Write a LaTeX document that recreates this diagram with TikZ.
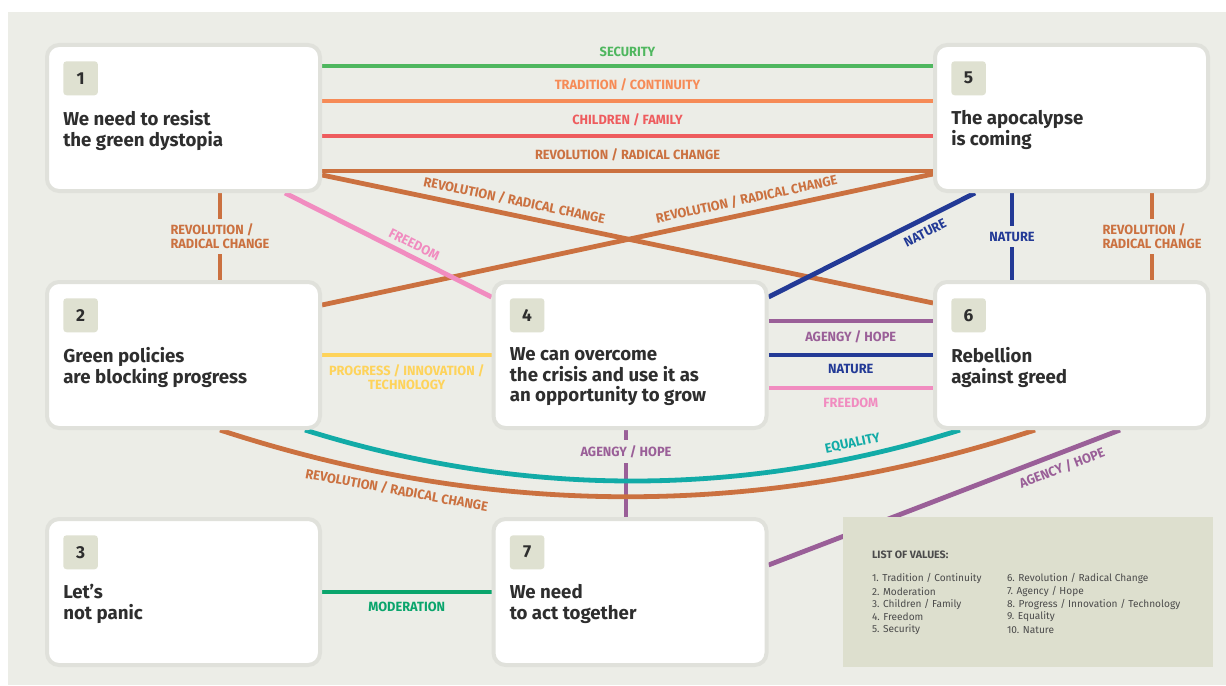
\documentclass[tikz,border=0pt]{standalone}
\usepackage{fontspec}
\setmainfont{Fira Sans}
\usetikzlibrary{positioning}

\definecolor{panel}{HTML}{ECEDE7}
\definecolor{boxedge}{HTML}{E0E1DB}
\definecolor{badgefill}{HTML}{DFE1D1}
\definecolor{legendbg}{HTML}{DDDFCE}
\definecolor{ink}{HTML}{2E2E2E}
\definecolor{legendink}{HTML}{4B4B4B}
\definecolor{security}{HTML}{4FB75F}
\definecolor{tradition}{HTML}{F68B57}
\definecolor{children}{HTML}{EE5C5E}
\definecolor{revolution}{HTML}{CB7140}
\definecolor{freedom}{HTML}{F18CC0}
\definecolor{nature}{HTML}{233A96}
\definecolor{agency}{HTML}{9A5F98}
\definecolor{progress}{HTML}{FED35A}
\definecolor{equality}{HTML}{12ABA7}
\definecolor{moderation}{HTML}{0AA56C}

\pgfdeclarelayer{lines}
\pgfsetlayers{lines,main}

\tikzset{
  box/.style={draw=boxedge, line width=3pt, fill=white, rounded corners=9pt,
    minimum width=204.75pt, minimum height=109.5pt, inner sep=0pt},
  badge/.style={fill=badgefill, rounded corners=2.5pt, minimum width=26pt,
    minimum height=25.5pt, inner sep=0pt, anchor=north west, text=ink,
    font=\fontsize{13}{13}\selectfont\bfseries},
  claim/.style={anchor=north west, inner sep=0pt, align=left, text=ink,
    font=\fontsize{14}{15.6}\selectfont\bfseries},
  conn/.style={line width=3.6pt},
  tag/.style={font=\fontsize{10}{10.5}\selectfont\bfseries, xscale=0.96, inner sep=1.5pt},
  gap/.style={fill=panel, inner ysep=4pt, align=left},
  legendbox/.style={fill=legendbg, minimum width=277.5pt, minimum height=112.5pt, inner sep=0pt},
  legenditem/.style={anchor=west, inner sep=0pt, text=legendink, font=\fontsize{7.6}{8}\selectfont},
}

\begin{document}
\begin{tikzpicture}[x=0.75pt, y=-0.75pt]
        \useasboundingbox (0,0) rectangle (1226,685);

        \node[box] (b1) at (183.5,118) {};
        \node[badge] at ([shift={(18,18)}]b1.north west) {1};
        \node[claim] at ([shift={(18,67)}]b1.north west) {We need to resist\\the green dystopia};

        \node[box] (b5) at (1071.5,118) {};
        \node[badge] at ([shift={(18,18)}]b5.north west) {5};
        \node[claim] at ([shift={(18,67)}]b5.north west) {The apocalypse\\is coming};

        \node[box] (b2) at (183.5,355) {};
        \node[badge] at ([shift={(18,18)}]b2.north west) {2};
        \node[claim] at ([shift={(18,67)}]b2.north west) {Green policies\\are blocking progress};

        \node[box] (b4) at (630,355) {};
        \node[badge] at ([shift={(18,18)}]b4.north west) {4};
        \node[claim] at ([shift={(18,67)}]b4.north west) {We can overcome\\the crisis and use it as\\an opportunity to grow};

        \node[box] (b6) at (1071.5,355) {};
        \node[badge] at ([shift={(18,18)}]b6.north west) {6};
        \node[claim] at ([shift={(18,67)}]b6.north west) {Rebellion\\against greed};

        \node[box] (b3) at (183.5,592) {};
        \node[badge] at ([shift={(18,18)}]b3.north west) {3};
        \node[claim] at ([shift={(18,67)}]b3.north west) {Let’s\\not panic};

        \node[box] (b7) at (630,592) {};
        \node[badge] at ([shift={(18,18)}]b7.north west) {7};
        \node[claim] at ([shift={(18,67)}]b7.north west) {We need\\to act together};

        \node[legendbox] (lv) at (1028,592) {};
        \node[legenditem, font=\fontsize{8}{8}\selectfont\bfseries] at ([shift={(29,38)}]lv.north west) {LIST OF VALUES:};
        \foreach \val [count=\i from 0] in {1. Tradition / Continuity, 2. Moderation, 3. Children / Family, 4. Freedom, 5. Security}
            \node[legenditem] at ([shift={(29,62+12.75*\i)}]lv.north west) {\val};
        \foreach \val [count=\i from 0] in {6. Revolution / Radical Change, 7. Agency / Hope, 8. Progress / Innovation / Technology, 9. Equality, 10. Nature}
            \node[legenditem] at ([shift={(164,62+12.75*\i)}]lv.north west) {\val};

        \begin{pgfonlayer}{lines}
        \fill[white] (0,0) rectangle (1226,685);
        \fill[panel] (8,12) rectangle (1226,685);

        \draw[conn, security] ([shift={(0,-52)}]b1.east) -- node[tag, above=4pt] {SECURITY} ([shift={(0,-52)}]b5.west);
        \draw[conn, tradition] ([shift={(0,-17)}]b1.east) -- node[tag, above=4pt] {TRADITION / CONTINUITY} ([shift={(0,-17)}]b5.west);
        \draw[conn, children] ([shift={(0,18)}]b1.east) -- node[tag, above=4pt] {CHILDREN / FAMILY} ([shift={(0,18)}]b5.west);
        \draw[conn, revolution] ([shift={(0,53)}]b1.east) -- node[tag, above=4pt] {REVOLUTION / RADICAL CHANGE} ([shift={(0,53)}]b5.west);

        \draw[conn, revolution] ([shift={(0,57)}]b1.east) -- node[tag, sloped, above=3pt, pos=0.31] {REVOLUTION / RADICAL CHANGE} ([shift={(0,-52)}]b6.west);
        \draw[conn, revolution] ([shift={(0,-50)}]b2.east) -- node[tag, sloped, above=3pt, pos=0.7] {REVOLUTION / RADICAL CHANGE} ([shift={(0,56)}]b5.west);
        \draw[conn, freedom] ([shift={(101.5,0)}]b1.south) -- node[tag, sloped, above=2pt, pos=0.6] {FREEDOM} ([shift={(0,-58)}]b4.west);
        \draw[conn, nature] ([shift={(0,-58)}]b4.east) -- node[tag, sloped, below=3pt, pos=0.73] {NATURE} ([shift={(-96.5,0)}]b5.south);

        \draw[conn, revolution] ([shift={(36.5,0)}]b1.south) -- node[tag, gap] {REVOLUTION /\\RADICAL CHANGE} ([shift={(36.5,0)}]b2.north);
        \draw[conn, nature] ([shift={(-59.5,0)}]b5.south) -- node[tag, gap] {NATURE} ([shift={(-59.5,0)}]b6.north);
        \draw[conn, revolution] ([shift={(80.5,0)}]b5.south) -- node[tag, gap] {REVOLUTION /\\RADICAL CHANGE} ([shift={(80.5,0)}]b6.north);

        \draw[conn, agency] ([shift={(0,-34)}]b4.east) -- node[tag, below=4pt] {AGENGY / HOPE} ([shift={(0,-34)}]b6.west);
        \draw[conn, nature] (b4.east) -- node[tag, below=4pt] {NATURE} (b6.west);
        \draw[conn, freedom] ([shift={(0,33)}]b4.east) -- node[tag, below=4pt] {FREEDOM} ([shift={(0,33)}]b6.west);
        \draw[conn, progress] (b2.east) -- node[tag, below=4pt, align=center] {PROGRESS / INNOVATION /\\TECHNOLOGY} (b4.west);
        \draw[conn, moderation] (b3.east) -- node[tag, below=4pt] {MODERATION} (b7.west);
        \draw[conn, agency] ([shift={(-4,0)}]b4.south) -- node[tag, gap, pos=0.25] {AGENGY / HOPE} ([shift={(-4,0)}]b7.north);

        \draw[conn, equality] ([shift={(121.5,0)}]b2.south) .. controls +(217,68) and +(-217,68) .. ([shift={(-111.5,0)}]b6.south)
            node[tag, sloped, above=3pt, pos=0.84] {EQUALITY};
        \draw[conn, revolution] ([shift={(36.5,0)}]b2.south) .. controls +(272,89) and +(-272,89) .. ([shift={(-36.5,0)}]b6.south)
            node[tag, sloped, below=3pt, pos=0.22] {REVOLUTION / RADICAL CHANGE};
        \draw[conn, agency] ([shift={(0,-27)}]b7.east) -- node[tag, sloped, below=3pt, pos=0.82] {AGENCY / HOPE} ([shift={(48.5,0)}]b6.south);
        \end{pgfonlayer}
    \end{tikzpicture}
\end{document}
